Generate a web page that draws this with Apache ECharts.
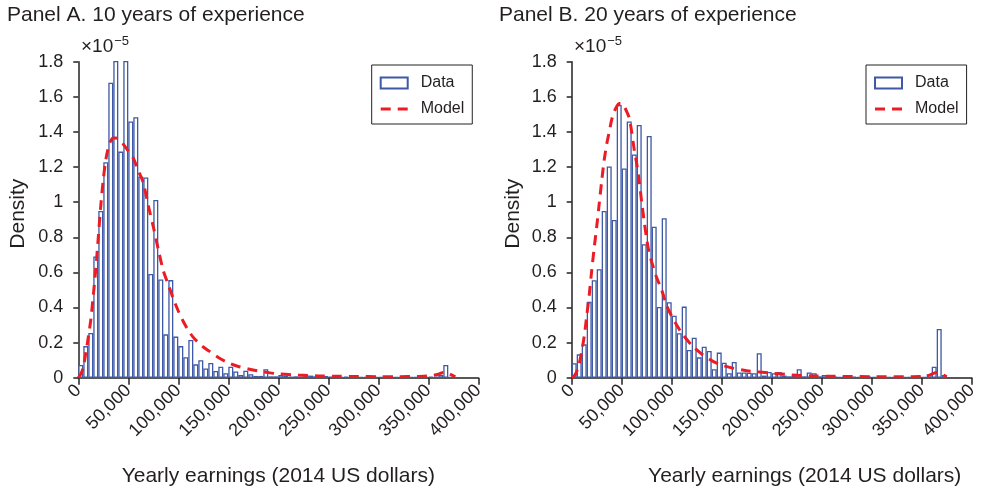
<!DOCTYPE html>
<html><head><meta charset="utf-8">
<script src="https://cdn.jsdelivr.net/npm/echarts@6/dist/echarts.min.js"></script>
<style>html,body{margin:0;padding:0;background:#fff}#c{width:981px;height:492px}</style>
</head><body><div id="c"></div>
<script>
const panelTitles = ['Panel A. 10 years of experience', 'Panel B. 20 years of experience'];
const xAxisTitle = 'Yearly earnings (2014 US dollars)';
const yAxisTitle = 'Density';
const binWidth = 5000;
const xTickLabels = ['0', '50,000', '100,000', '150,000', '200,000', '250,000', '300,000', '350,000', '400,000'];
const yTickLabels = ['0', '0.2', '0.4', '0.6', '0.8', '1', '1.2', '1.4', '1.6', '1.8'];

// histogram densities (x 1e-5) per 5,000-dollar bin, Panel A
const dataA = [0.072, 0.18, 0.255, 0.69, 0.95, 1.227, 1.68, 1.95, 1.288, 1.95,
  1.459, 1.484, 1.145, 1.14, 0.591, 1.012, 0.56, 0.247, 0.556, 0.234,
  0.18, 0.117, 0.215, 0.076, 0.10, 0.053, 0.084, 0.038, 0.063, 0.025,
  0.063, 0.035, 0.015, 0.04, 0.02, 0.01, 0.01, 0.048, 0.008, 0.008,
  0.015, 0.012, 0.006, 0.008, 0.006, 0.015, 0.012, 0.008, 0.014, 0.01,
  0.006, 0.004, 0.004, 0.005, 0.004, 0.004, 0.004, 0.003, 0.004, 0.004,
  0.003, 0.004, 0.004, 0.003, 0.004, 0.003, 0.004, 0.004, 0.003, 0.004,
  0.005, 0.005, 0.015, 0.072, 0.004];
// Panel B
const dataB = [0.082, 0.133, 0.19, 0.432, 0.555, 0.618, 0.95, 1.203, 0.898, 1.554,
  1.192, 1.46, 1.272, 1.44, 0.76, 1.377, 0.86, 0.403, 0.908, 0.43,
  0.353, 0.253, 0.405, 0.158, 0.228, 0.116, 0.177, 0.152, 0.048, 0.143,
  0.085, 0.025, 0.09, 0.03, 0.03, 0.028, 0.025, 0.139, 0.012, 0.033,
  0.025, 0.033, 0.012, 0.008, 0.012, 0.048, 0.008, 0.03, 0.025, 0.008,
  0.015, 0.005, 0.008, 0.004, 0.005, 0.004, 0.006, 0.004, 0.004, 0.005,
  0.004, 0.006, 0.004, 0.004, 0.004, 0.003, 0.004, 0.004, 0.004, 0.005,
  0.004, 0.02, 0.063, 0.277, 0.015];

// model density curves (x in thousands of dollars)
const modelAx = [0, 2.5, 5, 7.5, 10, 12.5, 15, 17.5, 20, 22.5, 25, 27.5, 30, 32.5, 35, 37.5, 40, 45, 50, 55, 60, 65, 70, 75, 80, 85, 90, 95, 100, 105, 110, 115, 120, 125, 130, 140, 150, 160, 170, 180, 190, 200, 220, 240, 260, 280, 300, 320, 340, 350, 360, 365, 370, 377];
const modelAy = [0, 0.02, 0.06, 0.14, 0.23, 0.33, 0.47, 0.62, 0.8, 0.98, 1.13, 1.24, 1.31, 1.35, 1.365, 1.365, 1.355, 1.33, 1.29, 1.25, 1.18, 1.11, 0.98, 0.86, 0.73, 0.61, 0.53, 0.45, 0.38, 0.32, 0.27, 0.23, 0.2, 0.175, 0.155, 0.115, 0.085, 0.064, 0.05, 0.038, 0.029, 0.022, 0.015, 0.01, 0.008, 0.007, 0.006, 0.006, 0.007, 0.01, 0.02, 0.03, 0.025, 0.005];
const modelBx = [0, 2.5, 5, 7.5, 10, 12.5, 15, 17.5, 20, 22.5, 25, 27.5, 30, 32.5, 35, 37.5, 40, 42.5, 45, 47.5, 50, 52.5, 55, 57.5, 60, 62.5, 65, 67.5, 70, 72.5, 75, 77.5, 80, 85, 90, 95, 100, 105, 110, 120, 130, 140, 150, 160, 175, 200, 220, 240, 260, 300, 340, 355, 365, 370, 375];
const modelBy = [0, 0.01, 0.035, 0.08, 0.15, 0.235, 0.35, 0.47, 0.61, 0.74, 0.86, 0.99, 1.12, 1.24, 1.33, 1.4, 1.47, 1.515, 1.545, 1.562, 1.562, 1.545, 1.516, 1.48, 1.4, 1.3, 1.22, 1.12, 1.0, 0.89, 0.79, 0.71, 0.66, 0.57, 0.5, 0.41, 0.35, 0.3, 0.255, 0.185, 0.135, 0.097, 0.072, 0.056, 0.04, 0.026, 0.016, 0.01, 0.008, 0.006, 0.006, 0.01, 0.03, 0.02, 0.005];

const TXT = '#231f20';
const BLUE = '#3d59a8';
const RED = '#ec1c24';
const FONT = '"Liberation Sans", Arial, Helvetica, sans-serif';

const chart = echarts.init(document.getElementById('c'), null, {renderer: 'canvas'});

function xAxisCfg(i, namePad) {
  return {
    type: 'value', gridIndex: i, min: 0, max: 400000, interval: 50000,
    axisLine: {show: true, lineStyle: {color: '#222', width: 1.5}},
    axisTick: {show: true, length: 7, lineStyle: {color: '#222', width: 1.5}},
    axisLabel: {rotate: 45, margin: 10, fontSize: 18, color: TXT, fontFamily: FONT,
      formatter: v => xTickLabels[Math.round(v / 50000)]},
    splitLine: {show: false},
    name: xAxisTitle, nameLocation: 'middle', nameGap: 88,
    nameTextStyle: {fontSize: 21, color: TXT, fontFamily: FONT, padding: namePad}
  };
}
function yAxisCfg(i, gap) {
  return {
    type: 'value', gridIndex: i, min: 0, max: 1.8, interval: 0.2,
    axisLine: {show: true, lineStyle: {color: '#222', width: 1.5}},
    axisTick: {show: true, length: 5, lineStyle: {color: '#222', width: 1.5}},
    axisLabel: {margin: 15, fontSize: 18, color: TXT, fontFamily: FONT,
      formatter: v => yTickLabels[Math.round(v / 0.2)]},
    splitLine: {show: false},
    name: yAxisTitle, nameLocation: 'middle', nameGap: gap,
    nameTextStyle: {fontSize: 21, color: TXT, fontFamily: FONT, padding: [0, 0, 0, 12]}
  };
}
function legendCfg(left) {
  return {
    left: left, top: 65, orient: 'vertical',
    data: [
      {name: 'Data', icon: 'rect'},
      {name: 'Model', icon: 'path://M0,0h10v3h-10zM17,0h10v3h-10z', itemStyle: {color: RED, borderWidth: 0}}
    ],
    itemWidth: 27, itemHeight: 11, itemGap: 10, symbolKeepAspect: true,
    borderColor: '#222', borderWidth: 1, padding: [10, 8, 7, 8],
    selectedMode: false,
    textStyle: {fontSize: 16, color: TXT, fontFamily: FONT, padding: [0, 0, 0, 8]}
  };
}
function barSeries(i, arr) {
  return {
    type: 'bar', name: 'Data', xAxisIndex: i, yAxisIndex: i,
    data: arr.map((v, k) => [(k + 0.5) * binWidth, v]),
    barWidth: 5, clip: true,
    itemStyle: {color: '#ffffff', borderColor: BLUE, borderWidth: 1.3},
    emphasis: {disabled: true}, z: 2
  };
}
function lineSeries(i, xs, ys) {
  return {
    type: 'line', name: 'Model', xAxisIndex: i, yAxisIndex: i,
    data: xs.map((x, k) => [x * 1000, ys[k]]),
    symbol: 'none', smooth: 0.3,
    lineStyle: {color: RED, width: 3, type: [10, 7]},
    itemStyle: {color: RED},
    emphasis: {disabled: true}, z: 5
  };
}
const sup = {
  fontWeight: 'normal',
  rich: {
    a: {fontSize: 19, fontWeight: 'normal', color: TXT, fontFamily: FONT},
    b: {fontSize: 13, fontWeight: 'normal', color: TXT, fontFamily: FONT, padding: [0, 0, 10, 1]}
  }
};
const titleStyle = {fontSize: 21, fontWeight: 'normal', color: TXT, fontFamily: FONT};

chart.setOption({
  animation: false,
  backgroundColor: '#fff',
  title: [
    {text: panelTitles[0], left: 7, top: 5, padding: 0, textStyle: titleStyle},
    {text: panelTitles[1], left: 499, top: 5, padding: 0, textStyle: titleStyle},
    {text: '{a|×10}{b|−5}', left: 81, top: 35, padding: 0, textStyle: sup},
    {text: '{a|×10}{b|−5}', left: 574, top: 35, padding: 0, textStyle: sup}
  ],
  legend: [legendCfg(371.7), legendCfg(866)],
  grid: [
    {left: 78.3, top: 61.7, width: 400, height: 316, containLabel: false},
    {left: 571.7, top: 61.7, width: 400, height: 316, containLabel: false}
  ],
  xAxis: [xAxisCfg(0, [0, 0, 0, 0]), xAxisCfg(1, [0, 0, 0, 66])],
  yAxis: [yAxisCfg(0, 50), yAxisCfg(1, 48)],
  series: [
    barSeries(0, dataA), lineSeries(0, modelAx, modelAy),
    barSeries(1, dataB), lineSeries(1, modelBx, modelBy)
  ]
});
</script></body></html>
